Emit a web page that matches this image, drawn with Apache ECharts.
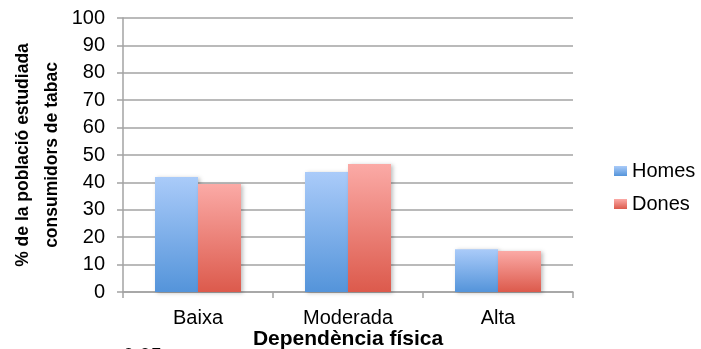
<!DOCTYPE html>
<html>
<head>
<meta charset="utf-8">
<script src="https://cdn.jsdelivr.net/npm/echarts@6/dist/echarts.min.js"></script>
<style>
  html, body { margin: 0; padding: 0; background: #fff; }
  #chart { width: 701px; height: 349px; }
</style>
</head>
<body>
<div id="chart"></div>
<script>
// Physical dependence level groups
const categories = ['Baixa', 'Moderada', 'Alta'];
// Share of the studied smokers (%) by sex
const homes = [42.0, 43.8, 15.6];
const dones = [39.4, 46.7, 15.0];
const yTicks = { min: 0, max: 100, interval: 10 };

const FONT = '"Liberation Sans", Arial, sans-serif';
const GRID_GRAY = '#a3a3a3';

function vGrad(top, bottom) {
  return new echarts.graphic.LinearGradient(0, 0, 0, 1, [
    { offset: 0, color: top },
    { offset: 1, color: bottom }
  ]);
}

const chart = echarts.init(document.getElementById('chart'));
chart.setOption({
  animation: false,
  backgroundColor: '#ffffff',
  textStyle: { fontFamily: FONT },
  grid: { left: 123, right: 128, top: 18, bottom: 57, containLabel: false, outerBoundsMode: 'none' },
  legend: {
    orient: 'vertical',
    left: 614,
    top: 161,
    padding: 0,
    itemWidth: 13,
    itemHeight: 10,
    itemGap: 13,
    icon: 'rect',
    textStyle: { fontFamily: FONT, fontSize: 20, color: '#000' },
    data: ['Homes', 'Dones']
  },
  xAxis: {
    type: 'category',
    data: categories,
    name: 'Dependència física',
    nameLocation: 'middle',
    nameMoveOverlap: false,
    nameGap: 37,
    nameTextStyle: { fontFamily: FONT, fontSize: 21, fontWeight: 'bold', color: '#000' },
    axisLine: { show: true, lineStyle: { color: GRID_GRAY, width: 1.5 } },
    axisTick: { show: true, length: 6, lineStyle: { color: GRID_GRAY, width: 1.5 } },
    axisLabel: { fontFamily: FONT, fontSize: 20, color: '#000', margin: 16 }
  },
  yAxis: {
    type: 'value',
    min: yTicks.min,
    max: yTicks.max,
    interval: yTicks.interval,
    name: '% de la població estudiada\nconsumidors de tabac',
    nameLocation: 'middle',
    nameRotate: 90,
    nameMoveOverlap: false,
    nameGap: 56,
    nameTextStyle: { fontFamily: FONT, fontSize: 17.5, fontWeight: 'bold', color: '#000', lineHeight: 29 },
    axisLine: { show: true, lineStyle: { color: GRID_GRAY, width: 1.5 } },
    axisTick: { show: true, length: 6, lineStyle: { color: GRID_GRAY, width: 1.5 } },
    axisLabel: { fontFamily: FONT, fontSize: 20, color: '#000', margin: 18 },
    splitLine: { show: true, lineStyle: { color: GRID_GRAY, width: 1.5 } }
  },
  series: [
    {
      name: 'Homes',
      type: 'bar',
      data: homes,
      barWidth: 43,
      barGap: '0%',
      itemStyle: {
        color: vGrad('#aacbf9', '#5494da'),
        shadowColor: 'rgba(0,0,0,0.25)',
        shadowBlur: 4,
        shadowOffsetX: 2,
        shadowOffsetY: 1
      }
    },
    {
      name: 'Dones',
      type: 'bar',
      data: dones,
      barWidth: 43,
      barGap: '0%',
      itemStyle: {
        color: vGrad('#fbaaa6', '#dc5a4c'),
        shadowColor: 'rgba(0,0,0,0.25)',
        shadowBlur: 4,
        shadowOffsetX: 2,
        shadowOffsetY: 1
      }
    }
  ],
  graphic: [
    {
      type: 'text',
      left: 89,
      top: 346,
      style: { text: 'p < 0.05', font: '20px ' + FONT, fill: '#000' }
    }
  ]
});
</script>
</body>
</html>
